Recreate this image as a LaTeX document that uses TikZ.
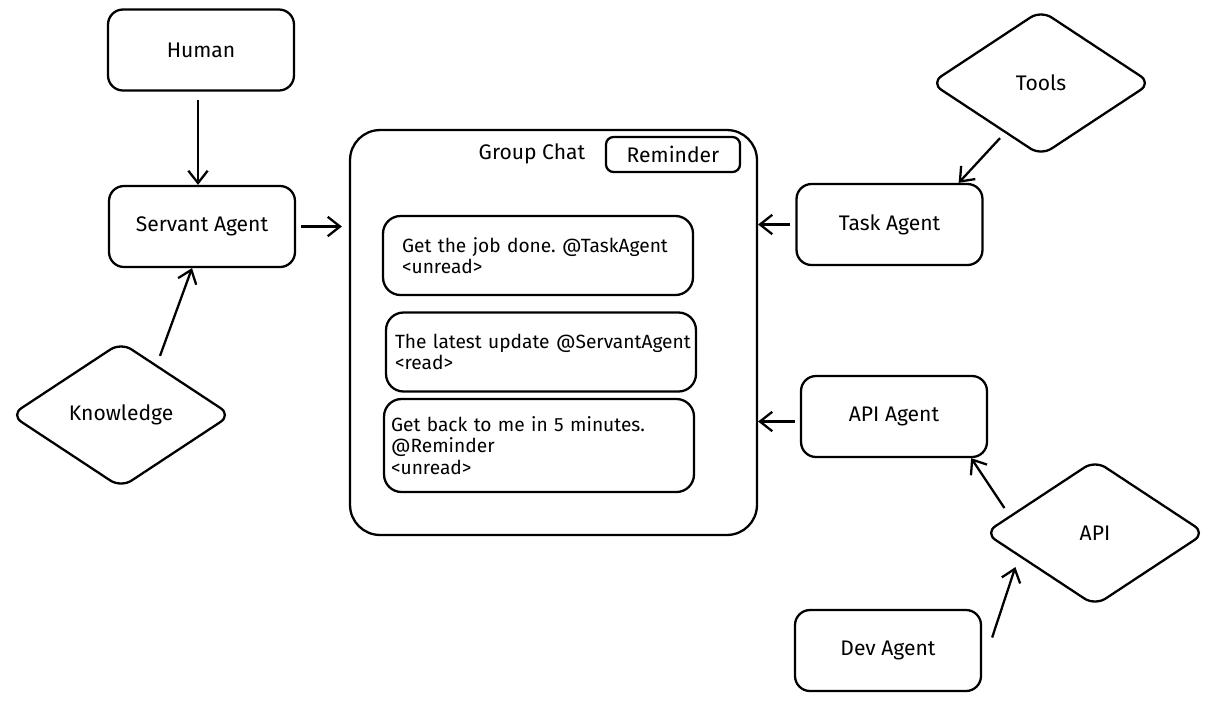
\documentclass[tikz,border=0pt]{standalone}
\usepackage{fontspec}
\setmainfont{Fira Sans}
\frenchspacing
\usetikzlibrary{shapes.geometric, arrows.meta, positioning, calc}

\begin{document}
\begin{tikzpicture}[
    x=0.02cm, y=-0.02cm,
    line width=1.3pt,
    agent/.style={draw, rounded corners=0.3cm, minimum width=3.72cm, minimum height=1.62cm, font=\large},
    source/.style={draw, diamond, rounded corners=0.25cm, inner sep=0pt, minimum width=4.42cm, minimum height=2.92cm, font=\large},
    msg/.style={draw, rounded corners=0.35cm, minimum height=1.58cm, align=left, font=\fontsize{10.9}{12.2}\selectfont},
    link/.style={-{Straight Barb[length=7pt, width=11pt]}}
]
\useasboundingbox (0,0) rectangle (1216,701);

% Left side
\node[agent] (human) at (201,50) {Human};
\node[agent] (servant) at (202,226.5) {Servant Agent};
\node[source] (knowledge) at (121,415) {Knowledge};

% Group chat
\node[draw, rounded corners=0.6cm, minimum width=8.14cm, minimum height=8.1cm] (chat) at (553.5,332.5) {};
\node[font=\large] (chattitle) at (532,154) {Group Chat};
\node[draw, rounded corners=0.15cm, minimum width=2.68cm, minimum height=0.7cm, font=\large] (reminder) at (673,154.5) {Reminder};

% Messages
\node[msg, inner xsep=0.38cm, text width=5.44cm] (msg1) at (538,255.5) {Get the job done. @TaskAgent\\<unread>};
\node[msg, inner xsep=0.18cm, text width=5.84cm] (msg2) at (541,352) {\makebox[\linewidth][l]{The latest update @ServantAgent}\\<read>};
\node[msg, inner xsep=0.14cm, text width=5.92cm, minimum height=1.86cm] (msg3) at (539,445.5) {Get back to me in 5 minutes.\\@Reminder\\<unread>};

% Right side
\node[source] (tools) at (1041,83) {Tools};
\node[agent] (task) at (889.5,224.5) {Task Agent};
\node[agent] (apiagent) at (894,416.5) {API Agent};
\node[source] (api) at (1095,533) {API};
\node[agent] (dev) at (888,650.5) {Dev Agent};

% Arrows
\draw[link] ([xshift=-0.06cm, yshift=-0.16cm]human.south) -- ([xshift=-0.08cm]servant.north);
\draw[link, shorten <=3pt, shorten >=4pt] (servant.east) -- (servant.east -| chat.west);
\draw[link] ([shift={(39,15)}]knowledge.north) -- ([xshift=-0.2cm]servant.south);
\draw[link, shorten <=3pt] (task.west) -- (task.west -| chat.east);
\draw[link] ([shift={(-41,-19)}]tools.south) -- ([xshift=-0.5cm]task.north east);
\draw[link, shorten <=3pt] ([yshift=-0.1cm]apiagent.west) -- ([yshift=-0.1cm]apiagent.west -| chat.east);
\draw[link] ([shift={(21,-25)}]api.west) -- ([xshift=-0.34cm]apiagent.south east);
\draw[link] ([shift={(10,-13)}]dev.east) -- ([shift={(32,34)}]api.west);
\end{tikzpicture}
\end{document}
